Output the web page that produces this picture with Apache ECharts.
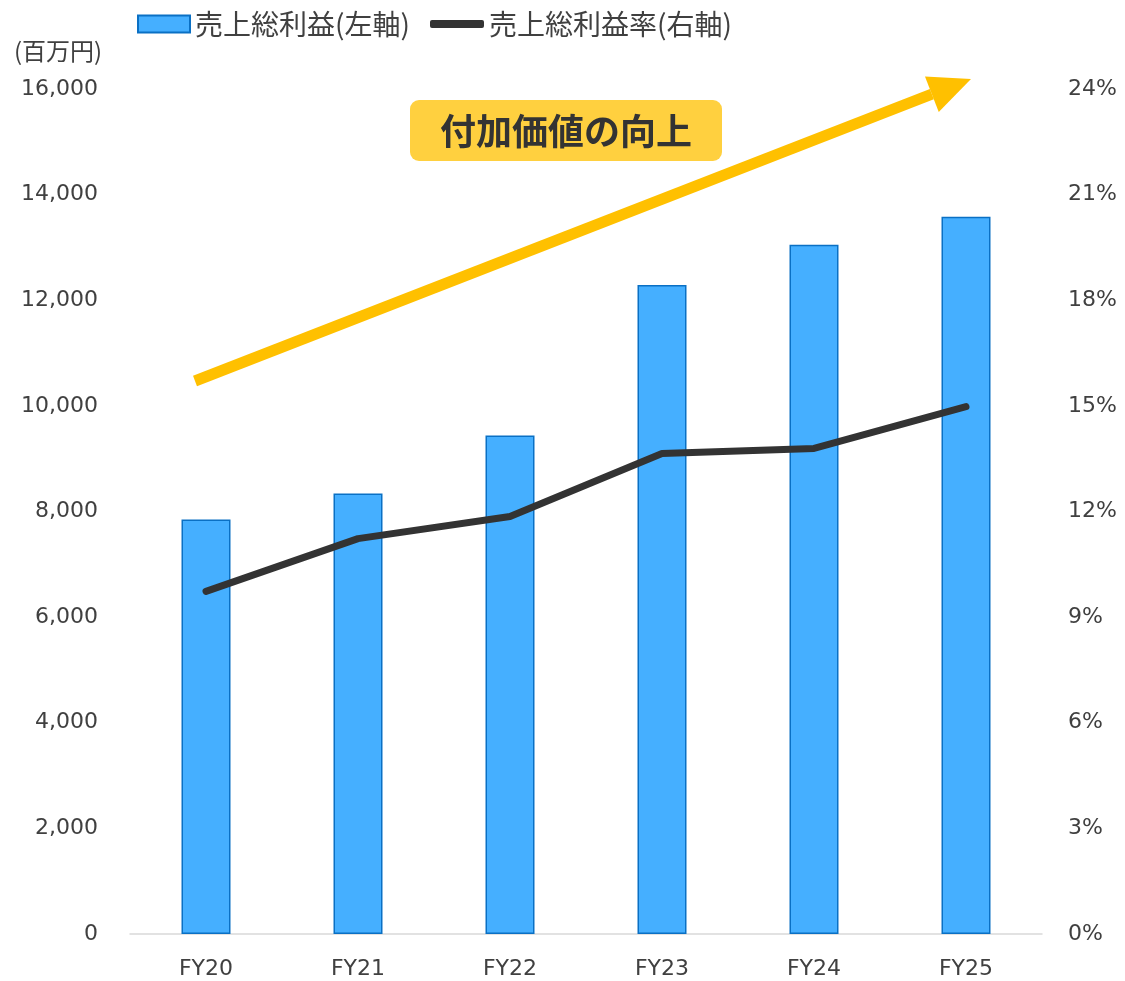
<!DOCTYPE html>
<html>
<head>
<meta charset="utf-8">
<script src="https://cdn.jsdelivr.net/npm/echarts@6/dist/echarts.min.js"></script>
<style>
  html, body { margin: 0; padding: 0; background: #fff; }
  #main { width: 1125px; height: 981px; }
</style>
</head>
<body>
<div id="main"></div>
<script>
// data
var categories = ['FY20', 'FY21', 'FY22', 'FY23', 'FY24', 'FY25'];
var grossProfit = [7850, 8340, 9440, 12290, 13050, 13580];   // 百万円
var grossMargin = [9.73, 11.23, 11.86, 13.65, 13.79, 14.98]; // %
var leftTicks = { min: 0, max: 16000, interval: 2000 };
var rightTicks = { min: 0, max: 24, interval: 3 };

var numFont = 'DejaVu Sans';
var jpFont = '"Noto Sans CJK JP", sans-serif';

// yellow arrow: tail and tip (pixels)
var tail = [195, 381], tip = [971, 79];
var dx = tip[0] - tail[0], dy = tip[1] - tail[1];
var len = Math.sqrt(dx * dx + dy * dy);
var ux = dx / len, uy = dy / len, nx = -uy, ny = ux;
var headLen = 42, headHalf = 19;
var base = [tip[0] - headLen * ux, tip[1] - headLen * uy];

var myChart = echarts.init(document.getElementById('main'));
var option = {
  animation: false,
  legend: [
    {
      data: [{ name: '売上総利益(左軸)', icon: 'rect' }],
      left: 137, top: 10, padding: 0,
      itemWidth: 52, itemHeight: 17,
      textStyle: { fontFamily: jpFont, fontSize: 28, color: '#404040' }
    },
    {
      data: [{ name: '売上総利益率(右軸)', icon: 'roundRect' }],
      left: 430, top: 10, padding: 0,
      itemWidth: 54, itemHeight: 8,
      textStyle: { fontFamily: jpFont, fontSize: 28, color: '#404040' }
    }
  ],
  grid: { left: 130, right: 83, top: 89, bottom: 47 },
  xAxis: {
    type: 'category',
    data: categories,
    axisLine: { lineStyle: { color: '#d9d9d9', width: 1.5 } },
    axisTick: { show: false },
    axisLabel: { margin: 24, fontFamily: numFont, fontSize: 22, color: '#404040' }
  },
  yAxis: [
    {
      type: 'value',
      min: leftTicks.min, max: leftTicks.max, interval: leftTicks.interval,
      splitLine: { show: false },
      axisLine: { show: false },
      axisTick: { show: false },
      axisLabel: {
        margin: 32, fontFamily: numFont, fontSize: 22, color: '#404040',
        formatter: function (v) { return v.toLocaleString('en-US'); }
      }
    },
    {
      type: 'value',
      min: rightTicks.min, max: rightTicks.max, interval: rightTicks.interval,
      splitLine: { show: false },
      axisLine: { show: false },
      axisTick: { show: false },
      axisLabel: {
        margin: 26, fontFamily: numFont, fontSize: 22, color: '#404040',
        formatter: '{value}%'
      }
    }
  ],
  series: [
    {
      name: '売上総利益(左軸)',
      type: 'bar',
      data: grossProfit,
      barWidth: 49,
      itemStyle: { color: '#45AFFF', borderColor: '#0A70C4', borderWidth: 1.5 }
    },
    {
      name: '売上総利益率(右軸)',
      type: 'line',
      yAxisIndex: 1,
      data: grossMargin,
      showSymbol: false,
      symbol: 'none',
      itemStyle: { color: '#333333' },
      lineStyle: { color: '#333333', width: 7, cap: 'round', join: 'round' }
    }
  ],
  graphic: [
    {
      type: 'text',
      x: 14, y: 51,
      style: {
        text: '(百万円)', fontFamily: jpFont, fontSize: 24, fill: '#404040',
        verticalAlign: 'middle'
      }
    },
    {
      type: 'line',
      shape: { x1: tail[0], y1: tail[1], x2: base[0], y2: base[1] },
      style: { stroke: '#FFC000', lineWidth: 11 }
    },
    {
      type: 'polygon',
      shape: {
        points: [
          tip,
          [base[0] + headHalf * nx, base[1] + headHalf * ny],
          [base[0] - headHalf * nx, base[1] - headHalf * ny]
        ]
      },
      style: { fill: '#FFC000' }
    },
    {
      type: 'rect',
      shape: { x: 410, y: 100, width: 312, height: 61, r: 9 },
      style: { fill: '#FFD03F' }
    },
    {
      type: 'text',
      x: 566, y: 131,
      style: {
        text: '付加価値の向上',
        fontFamily: jpFont, fontSize: 36, fontWeight: 'bold', fill: '#333333',
        align: 'center', verticalAlign: 'middle'
      }
    }
  ]
};
myChart.setOption(option);
</script>
</body>
</html>
